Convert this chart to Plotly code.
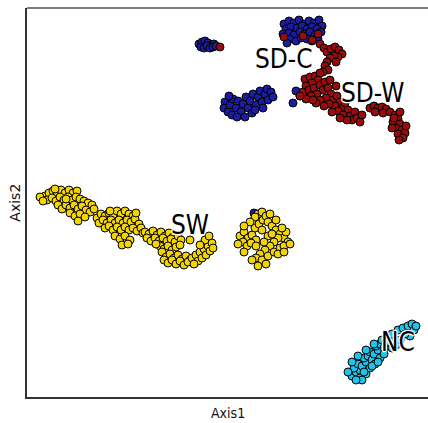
import plotly.graph_objects as go

# ---- data (embedding coordinates, arbitrary units) ----
sdc_x = [199,202,205,208,211,214,201,204,207,210,213,216,
         284,289,294,299,304,309,314,319,322,
         286,291,297,302,307,312,317,321,
         283,289,294,300,305,310,315,
         290,296,301,307,312,287,318,329,
         225,224,228,230,233,232,236,238,241,243,246,248,250,253,252,256,258,260,262,265,267,268,271,273,245,237,255,263,229,
         296,293,300,254]
sdc_y = [44,42,41,43,45,44,47,48,46,48,47,46,
         24,21,23,20,24,21,23,20,26,
         29,27,28,26,29,27,29,32,
         34,33,35,32,34,32,35,
         39,41,38,39,41,43,39,50,
         102,108,112,105,99,115,108,101,112,104,97,108,101,94,113,105,97,91,102,94,89,100,92,97,117,117,110,108,96,
         91,103,96,213]

sdw_x = [220,284,303,318,312,
         320,324,327,331,335,339,342,338,334,330,327,325,328,323,336,
         305,310,315,320,318,312,306,303,309,314,320,325,323,317,311,306,328,331,326,320,333,337,340,335,329,
         343,338,345,348,343,350,355,352,357,360,347,362,340,332,324,316,300,313,336,330,
         370,374,378,382,386,375,383,390,395,398,393,400,396,402,398,405,403,394,400,392,406,399]
sdw_y = [47,37,36,34,40,
         44,48,52,49,47,50,54,57,56,58,62,66,70,72,62,
         79,77,76,73,80,83,86,92,90,88,85,82,90,94,96,99,88,94,98,100,100,96,102,106,104,
         108,111,103,110,115,116,112,120,118,122,120,115,118,112,106,103,96,100,86,80,
         108,106,108,107,109,112,113,112,115,119,122,124,128,130,134,133,138,118,112,128,126,140]

sw_x = [45,49,53,57,61,65,69,73,77,47,52,56,60,64,68,72,76,80,84,88,92,58,62,66,70,74,78,82,86,90,94,70,75,80,85,78,66,55,40,43,
        97,101,105,109,113,117,121,125,129,133,99,103,107,111,115,119,123,127,131,135,139,105,109,113,117,121,125,129,133,137,141,115,120,125,130,122,128,110,136,143,
        145,149,153,157,161,165,169,173,147,151,155,159,163,167,171,175,178,181,160,164,168,172,176,156,180,
        162,166,170,174,178,182,186,190,164,168,172,176,180,184,188,192,196,200,204,208,212,198,202,206,210,194,205,209,213,200,190,
        240,244,248,252,256,243,247,251,238,255,259,263,258,262,266,270,268,272,276,280,284,288,286,282,278,274,270,265,260,256,262,268,274,280,284,290,252,266,244,276,255,
        250,262,268,256,264,272,244,278,258,284]
sw_y = [196,193,191,194,190,193,190,193,191,200,198,201,197,200,197,200,197,199,201,203,205,205,209,205,208,205,209,206,210,212,209,213,216,214,217,221,199,189,197,201,
        218,214,216,213,215,211,214,211,214,216,223,220,223,220,223,220,223,220,222,219,224,228,226,230,227,230,227,230,228,231,228,236,239,236,240,245,244,211,213,233,
        232,234,231,235,232,236,233,237,238,241,238,241,238,241,239,242,236,240,246,249,246,250,247,244,245,
        252,257,254,258,255,259,256,260,260,263,260,264,261,265,262,258,255,252,249,246,243,261,258,255,251,264,240,236,248,245,240,
        236,232,238,235,240,242,246,243,244,228,224,220,214,212,216,214,222,226,230,234,238,242,232,228,238,242,246,250,254,258,260,256,252,248,246,244,260,264,252,220,217,
        222,230,236,246,242,234,226,254,266,252]

nc_x = [352,356,360,354,358,362,366,364,368,372,370,374,378,376,380,384,382,386,388,360,366,370,375,380,352,362,392,398,403,408,412,414,410,396,392,400,
        348,356,364,372,378,384,358,366,374,390,405,416]
nc_y = [376,372,370,368,364,366,362,358,356,360,352,354,350,346,344,348,340,342,337,378,374,368,364,358,362,380,334,330,328,326,324,330,336,345,348,340,
        372,380,372,366,362,354,356,350,344,342,334,326]

labels = ["SD-C", "SD-W", "SW", "NC"]
label_x = [284, 372, 190, 398]
label_y = [59, 93, 225, 342]

series = [
    ("SD-C", sdc_x, sdc_y, "#1c1ca0"),
    ("SD-W", sdw_x, sdw_y, "#9a0c0c"),
    ("SW", sw_x, sw_y, "#f2d400"),
    ("NC", nc_x, nc_y, "#1ec3ea"),
]

fig = go.Figure()
for name, xs, ys, col in series:
    fig.add_trace(go.Scatter(
        x=xs, y=ys, mode="markers", name=name,
        marker=dict(size=8, color=col, line=dict(color="black", width=1)),
        showlegend=False))

halo = ("white 1px 0px 1px, white -1px 0px 1px, white 0px 1px 1px, white 0px -1px 1px, "
        "white 1px 1px 1px, white -1px -1px 1px, white 1px -1px 1px, white -1px 1px 1px")
for t, lx, ly in zip(labels, label_x, label_y):
    fig.add_annotation(x=lx, y=ly, text=t, showarrow=False, xanchor="center", yanchor="middle",
                       font=dict(family="DejaVu Sans Condensed, Liberation Sans Narrow, DejaVu Sans",
                                 size=26, color="black", shadow=halo))

fig.add_annotation(xref="paper", yref="paper", x=0.5, y=-0.041, text="Axis1", showarrow=False,
                   xanchor="center", yanchor="middle",
                   font=dict(family="DejaVu Sans Condensed, DejaVu Sans", size=14, color="#111"))
fig.add_annotation(xref="paper", yref="paper", x=-0.032, y=0.5, text="Axis2", showarrow=False,
                   textangle=-90, xanchor="center", yanchor="middle",
                   font=dict(family="DejaVu Sans", size=14, color="#111"))

fig.add_shape(type="line", xref="paper", yref="paper", x0=0, x1=1, y0=1, y1=1,
              line=dict(color="black", width=1.2))

fig.update_xaxes(range=[27, 428], showgrid=False, zeroline=False, showticklabels=False, ticks="",
                 showline=True, linecolor="#333", linewidth=1.6)
fig.update_yaxes(range=[397, 8], showgrid=False, zeroline=False, showticklabels=False, ticks="",
                 showline=True, linecolor="#333", linewidth=1.6)
fig.update_layout(width=428, height=423, margin=dict(l=27, r=0, t=8, b=26),
                  plot_bgcolor="white", paper_bgcolor="white")

fig.write_html("out.html")
